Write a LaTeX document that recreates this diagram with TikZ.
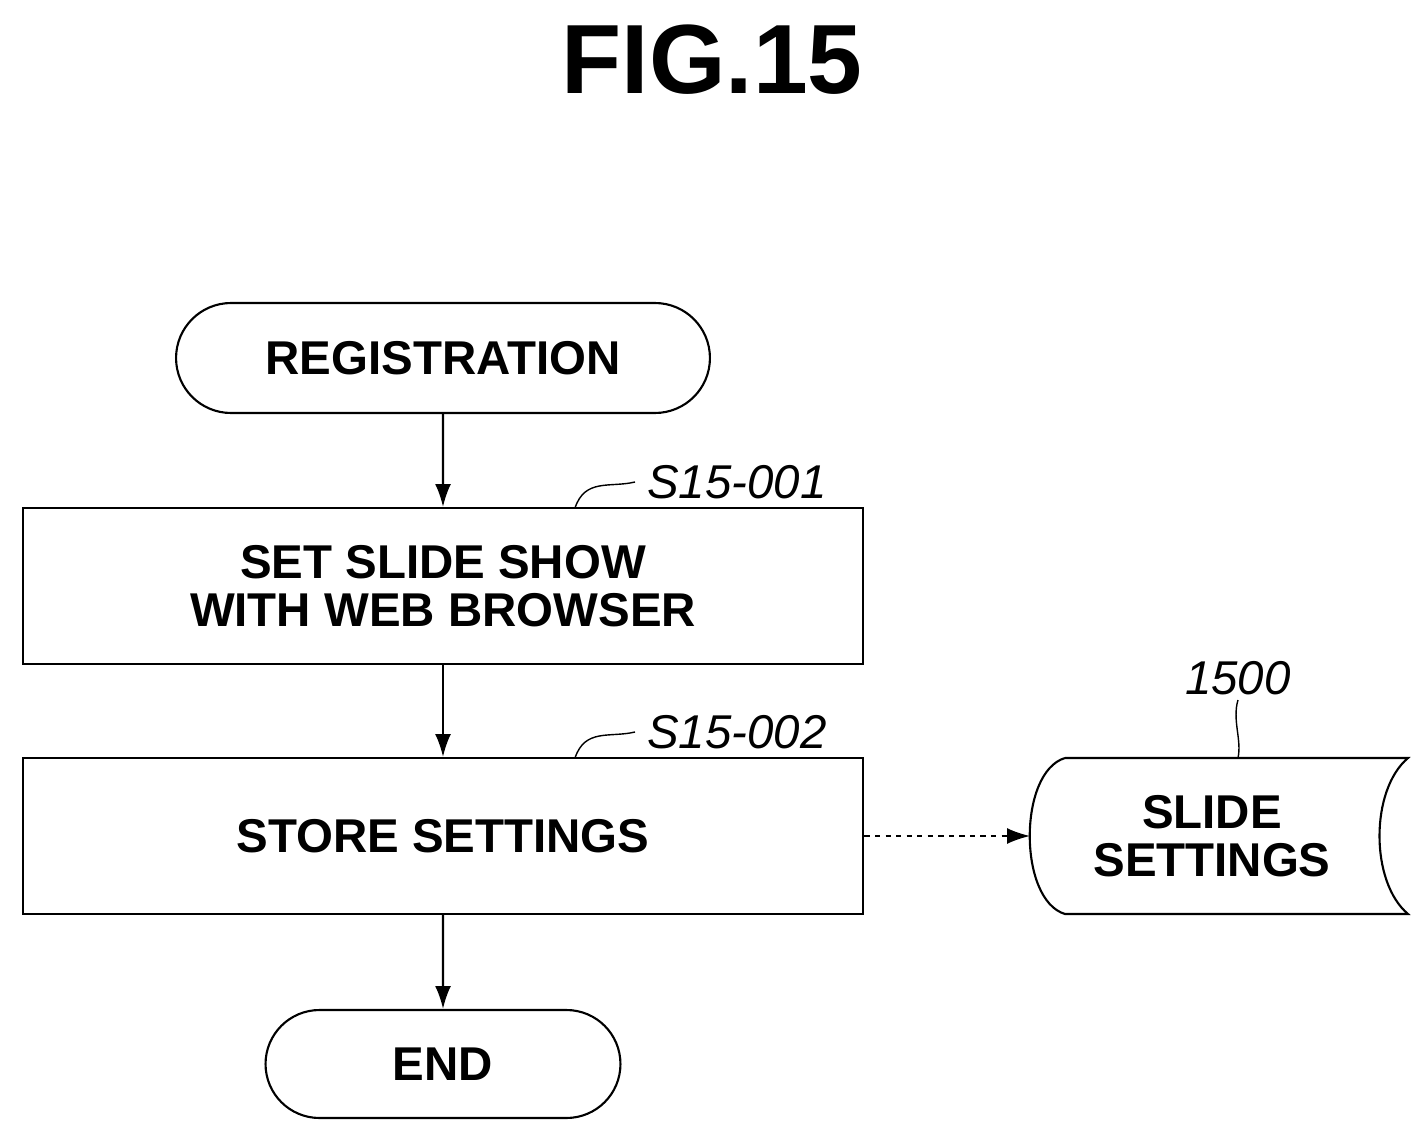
\documentclass[tikz,border=0pt]{standalone}
\usepackage{fontspec}
\setmainfont{Liberation Sans}
\usetikzlibrary{shapes.misc,arrows.meta}
\begin{document}
\begin{tikzpicture}[x=0.02cm,y=-0.02cm,
  every node/.style={font=\fontsize{27}{29}\selectfont\bfseries,align=center},
  term/.style={draw,line width=1.2pt,rounded rectangle,minimum height=2.2cm,inner sep=0pt},
  procbox/.style={draw,line width=1.2pt,minimum width=16.82cm,minimum height=3.12cm,inner sep=0pt},
  tag/.style={font=\fontsize{27}{29}\selectfont\itshape},
  flow/.style={line width=1.2pt,-{Latex[length=13pt,width=9pt]}}]
\useasboundingbox (0,0) rectangle (1428,1143);
\node[font=\fontsize{56}{60}\selectfont\bfseries] (title) at (712,60) {FIG.15};

\node[term,minimum width=10.68cm] (reg) at (443,358) {REGISTRATION};
\node[procbox] (s1) at (443,586) {SET SLIDE SHOW\\[-2pt]WITH WEB BROWSER};
\node[procbox] (s2) at (443,836) {STORE SETTINGS};
\node[term,minimum width=7.1cm,minimum height=2.16cm] (end) at (443,1064) {END};

\draw[flow] (reg) -- (s1);
\draw[flow] (s1) -- (s2);
\draw[flow] (s2) -- (end);

% storage
\draw[line width=1.2pt] (1065,758) -- (1408,758)
  .. controls (1370,790) and (1370,882) .. (1408,914) -- (1065,914)
  .. controls (1018,900) and (1018,772) .. (1065,758);
\node (db) at (1212,836) {SLIDE\\[-2pt]SETTINGS};
\coordinate (dbin) at (1030,836);
\draw[flow,dashed,line width=1pt] (s2.east) -- (dbin);

% step labels
\node[tag] (l1) at (737,482) {S15-001};
\node[tag] (l2) at (737,732) {S15-002};
\node[tag] (l3) at (1238,678) {1500};
\draw[line width=0.8pt] (575,508) .. controls (585,478) and (610,488) .. (635,482);
\draw[line width=0.8pt] (575,758) .. controls (585,728) and (610,738) .. (635,732);
\draw[line width=0.8pt] (1238,758) .. controls (1242,740) and (1232,720) .. (1238,700);
\end{tikzpicture}
\end{document}
